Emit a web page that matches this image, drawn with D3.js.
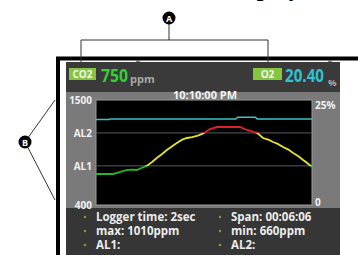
<!DOCTYPE html>
<html>
<head>
<meta charset="utf-8">
<style>
  body { margin: 0; background: #fff; }
  svg { display: block; font-family: "Open Sans", "DejaVu Sans", sans-serif; }
</style>
</head>
<body>
<svg></svg>
<script src="https://cdn.jsdelivr.net/npm/d3@7/dist/d3.min.js"></script>
<script>
// chart data (time in seconds since start of span)
let co2Times = [0, 18, 29, 40, 53, 62, 69, 78, 86, 95, 103, 112, 120, 129, 137, 146, 154, 163, 171, 178, 183, 193, 205, 225, 244, 250, 256, 265, 273, 278, 283, 292, 300, 308, 317, 326, 334, 343, 351, 359, 366];
let co2Values = [725, 725, 725, 745, 767, 770, 767, 790, 810, 850, 892, 935, 976, 1015, 1050, 1085, 1102, 1110, 1123, 1140, 1155, 1195, 1217, 1217, 1217, 1200, 1186, 1170, 1155, 1130, 1102, 1085, 1060, 1040, 1008, 980, 945, 910, 871, 835, 798];
let o2Times = [0, 22, 24, 237, 240, 270, 273, 366];
let o2Values = [20.35, 20.35, 20.5, 20.5, 20.9, 20.9, 20.5, 20.5];
let alarmNames = ["AL1", "AL2"];
let alarmValues = [810, 1155];
let leftTicks = [400, 810, 1155, 1500];
let leftLabels = ["400", "AL1", "AL2", "1500"];
let rightTicks = [0, 25];
let rightLabels = ["0", "25%"];
let infoLeft = ["Logger time: 2sec", "max: 1010ppm", "AL1:"];
let infoRight = ["Span: 00:06:06", "min: 660ppm", "AL2:"];

let width = 358, height = 255;
let svg = d3.select("svg").attr("width", width).attr("height", height);

// partial heading at top (mostly outside the crop)
svg.append("text").attr("x", 262).attr("y", -4).attr("text-anchor", "middle")
  .attr("font-family", "Liberation Serif, serif").attr("font-weight", "bold")
  .attr("font-size", 24).text("Display");

// outer frame of the device
svg.append("path").attr("d", "M58,255 V58.5 H358").attr("fill", "none")
  .attr("stroke", "#000").attr("stroke-width", 4);
[138, 330].forEach(x => {
  svg.append("path").attr("d", `M${x - 3},60 L${x + 3},60 L${x},64 Z`).attr("fill", "#777");
});

// panels
svg.append("rect").attr("x", 66).attr("y", 62).attr("width", 274).attr("height", 30).attr("fill", "#3a3a3a");
svg.append("rect").attr("x", 66).attr("y", 92).attr("width", 274).attr("height", 116).attr("fill", "#7a7a7a");
svg.append("rect").attr("x", 66).attr("y", 208).attr("width", 274).attr("height", 47).attr("fill", "#363636");

// header readings
svg.append("rect").attr("x", 69).attr("y", 68).attr("width", 27).attr("height", 12).attr("fill", "#86c540");
svg.append("text").attr("x", 82.5).attr("y", 78).attr("text-anchor", "middle").attr("font-size", 10)
  .attr("font-weight", "bold").attr("fill", "#f2f2f2").text("CO2");
svg.append("text").attr("x", 101).attr("y", 82).attr("font-size", 18).attr("font-weight", "bold")
  .attr("textLength", 27).attr("lengthAdjust", "spacingAndGlyphs")
  .attr("fill", "#35d035").text("750");
svg.append("text").attr("x", 130).attr("y", 83).attr("font-size", 11).attr("font-weight", "bold")
  .attr("fill", "#a8a8a8").text("ppm");

svg.append("rect").attr("x", 253).attr("y", 68).attr("width", 29).attr("height", 12).attr("fill", "#86c540");
svg.append("text").attr("x", 267.5).attr("y", 78).attr("text-anchor", "middle").attr("font-size", 10)
  .attr("font-weight", "bold").attr("fill", "#f2f2f2").text("O2");
svg.append("text").attr("x", 285).attr("y", 82).attr("font-size", 18).attr("font-weight", "bold")
  .attr("textLength", 39).attr("lengthAdjust", "spacingAndGlyphs")
  .attr("fill", "#2cc3d3").text("20.40");
svg.append("text").attr("x", 328).attr("y", 86).attr("font-size", 9.5).attr("font-weight", "bold")
  .attr("fill", "#a8a8a8").text("%");

svg.append("text").attr("x", 205).attr("y", 99).attr("text-anchor", "middle").attr("font-size", 11)
  .attr("font-weight", "bold").attr("fill", "#f4f4f4").text("10:10:00 PM");

// scales
let x = d3.scaleLinear().domain([0, 366]).range([96, 312]);
let yCo2 = d3.scaleLinear().domain([400, 1500]).range([205, 100]);
let yO2 = d3.scaleLinear().domain([0, 25]).range([205, 100]);

// plot area
svg.append("rect").attr("x", 96).attr("y", 100).attr("width", 216).attr("height", 105)
  .attr("fill", "#000").attr("stroke", "#9a9a9a").attr("stroke-width", 1);

svg.append("g").selectAll("line").data(alarmValues).enter().append("line")
  .attr("x1", 96).attr("x2", 312)
  .attr("y1", d => yCo2(d)).attr("y2", d => yCo2(d))
  .attr("stroke", "#5a5a5a").attr("stroke-width", 1);

// axes
let leftAxis = d3.axisLeft(yCo2).tickValues(leftTicks).tickSize(0).tickPadding(4)
  .tickFormat((d, i) => leftLabels[i]);
let gl = svg.append("g").attr("transform", "translate(96,0)").call(leftAxis);
gl.select(".domain").remove();
gl.selectAll("text").attr("font-size", 10).attr("font-weight", "bold").attr("fill", "#f0f0f0")
  .attr("font-family", "Open Sans, sans-serif");

let rightAxis = d3.axisRight(yO2).tickValues(rightTicks).tickSize(0).tickPadding(3)
  .tickFormat((d, i) => rightLabels[i]);
let gr = svg.append("g").attr("transform", "translate(312,0)").call(rightAxis);
gr.select(".domain").remove();
gr.selectAll("text").attr("font-size", 10).attr("font-weight", "bold").attr("fill", "#f0f0f0")
  .attr("font-family", "Open Sans, sans-serif");
gr.selectAll(".tick").filter(d => d === 25).select("text").attr("dy", "0.8em");
gr.selectAll(".tick").filter(d => d === 0).select("text").attr("dy", "0em");

// gradient for CO2 alarm colouring
let grad = svg.append("defs").append("linearGradient").attr("id", "co2grad")
  .attr("gradientUnits", "userSpaceOnUse")
  .attr("x1", 0).attr("x2", 0).attr("y1", yCo2(1500)).attr("y2", yCo2(400));
let f2 = (yCo2(alarmValues[1]) - yCo2(1500)) / (yCo2(400) - yCo2(1500));
let f1 = (yCo2(alarmValues[0]) - yCo2(1500)) / (yCo2(400) - yCo2(1500));
[[0, "#e0202a"], [f2, "#e0202a"], [f2, "#e3e330"], [f1, "#e3e330"], [f1, "#25b525"], [1, "#25b525"]]
  .forEach(s => grad.append("stop").attr("offset", s[0]).attr("stop-color", s[1]));

let o2Data = o2Times.map((t, i) => [t, o2Values[i]]);
svg.append("path").datum(o2Data)
  .attr("d", d3.line().x(d => x(d[0])).y(d => yO2(d[1])))
  .attr("fill", "none").attr("stroke", "#3cc3c6").attr("stroke-width", 1.5);

let co2Data = co2Times.map((t, i) => [t, co2Values[i]]);
svg.append("path").datum(co2Data)
  .attr("d", d3.line().x(d => x(d[0])).y(d => yCo2(d[1])))
  .attr("fill", "none").attr("stroke", "url(#co2grad)").attr("stroke-width", 1.8);

// info panel
function infoRows(items, bx) {
  let g = svg.append("g");
  items.forEach((t, i) => {
    let y = 217 + i * 14;
    g.append("circle").attr("cx", bx).attr("cy", y).attr("r", 1.3).attr("fill", "#7d9a3a");
    g.append("text").attr("x", bx + 11).attr("y", y + 4).attr("font-size", 11.5)
      .attr("font-weight", "bold").attr("fill", "#ececec").text(t);
  });
}
infoRows(infoLeft, 85);
infoRows(infoRight, 220);

// callout markers
function marker(cx, cy, label) {
  svg.append("circle").attr("cx", cx).attr("cy", cy).attr("r", 6.5).attr("fill", "#000");
  svg.append("text").attr("x", cx).attr("y", cy + 3.5).attr("text-anchor", "middle")
    .attr("font-size", 9).attr("font-weight", "bold").attr("fill", "#fff").text(label);
}
svg.append("path").attr("d", "M169,18 V40 M81,62 V40 H268 V62").attr("fill", "none")
  .attr("stroke", "#333").attr("stroke-width", 1);
svg.append("path").attr("d", "M55,100 L25,142 L55,200").attr("fill", "none")
  .attr("stroke", "#333").attr("stroke-width", 1);
marker(169, 18, "A");
marker(25, 142, "B");
</script>
</body>
</html>
